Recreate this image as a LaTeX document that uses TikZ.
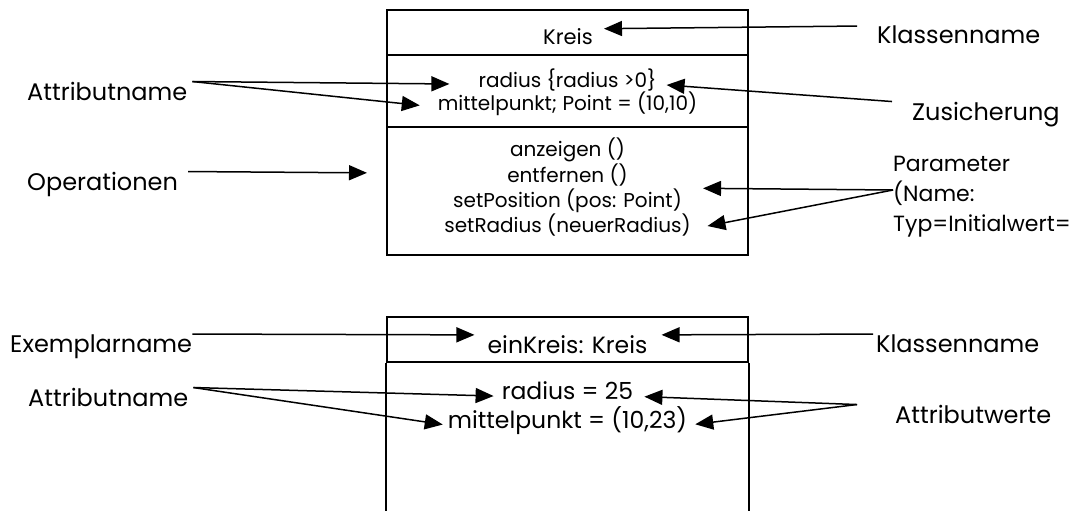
\documentclass[tikz,border=0pt]{standalone}
\usepackage{fontspec}
\setmainfont{Poppins}
\usetikzlibrary{arrows.meta}

\begin{document}
\begin{tikzpicture}[x=1pt, y=-1pt,
    every node/.style={inner sep=0pt},
    comp/.style={draw, line width=2pt, minimum width=361pt},
    lbl/.style={font=\fontsize{24}{30}\selectfont, anchor=base west},
    cls/.style={font=\fontsize{20}{24}\selectfont, anchor=base},
    obj/.style={font=\fontsize{23.5}{28}\selectfont, anchor=base},
    arr/.style={-{Triangle[length=18pt,width=15pt]}, line width=1.5pt}
]
    \useasboundingbox (0,0) rectangle (1081,511);

    % Klasse: name, attributes, operations
    \node[comp, minimum height=45pt]  (kname) at (567.5, 32.5) {};
    \node[comp, minimum height=72pt]  (kattr) at (567.5, 91) {};
    \node[comp, minimum height=128pt] (kops)  at (567.5, 191) {};

    \node[cls, font=\fontsize{21}{24}\selectfont] (kreis) at (568, 45) {Kreis};
    \node[cls] (radius)  at (567.5, 87)  {radius \{radius >0\}};
    \node[cls] (mittel)  at (567.5, 110) {mittelpunkt; Point = (10,10)};
    \node[cls] (anzeigen) at (567.5, 156) {anzeigen ()};
    \node[cls] (entfernen) at (567.5, 182) {entfernen ()};
    \node[cls] (setpos)  at (567.5, 207) {setPosition (pos: Point)};
    \node[cls] (setrad)  at (567.5, 232) {setRadius (neuerRadius)};

    % Exemplar (box runs off the bottom)
    \node[comp, minimum height=45pt] (iname) at (567.5, 339.5) {};
    \draw[line width=2pt] (iname.south west) -- ++(0,160)
                          (iname.south east) -- ++(0,160);

    \node[obj] (einkreis) at (567.5, 353) {einKreis: Kreis};
    \node[obj] (iradius)  at (567.5, 399) {radius = 25};
    \node[obj] (imittel)  at (567.5, 428) {mittelpunkt = (10,23)};

    % Beschriftungen
    \node[lbl] (attrA)  at (27, 100)  {Attributname};
    \node[lbl] (opsL)   at (27, 190)  {Operationen};
    \node[lbl] (klassA) at (877, 44)  {Klassenname};
    \node[lbl] (zusich) at (912, 120) {Zusicherung};
    \node[lbl, anchor=north west, align=left, font=\fontsize{22}{30}\selectfont]
        (param) at (893, 156) {Parameter\\(Name:\\Typ=Initialwert=};

    \node[lbl] (exempl) at (10, 352)  {Exemplarname};
    \node[lbl] (attrB)  at (28, 406)  {Attributname};
    \node[lbl] (klassB) at (876, 352) {Klassenname};
    \node[lbl] (werte)  at (895, 423) {Attributwerte};

    % Pfeile oben
    \draw[arr, shorten >=11pt] ([xshift=-20pt]klassA.north west) -- (kreis.north east);
    \draw[arr, shorten >=29pt] ([xshift=5pt]attrA.north east) -- (radius.mid west);
    \draw[arr, shorten >=18pt] ([xshift=5pt]attrA.north east) -- (mittel.mid west);
    \draw[arr, shorten >=10pt] ([xshift=-20pt]zusich.north west) -- (radius.mid east);
    \draw[arr, shorten >=19pt] ([xshift=10pt]opsL.north east) -- ([yshift=18pt]kops.west);
    \draw[arr, shorten >=21pt] ([yshift=-34pt]param.north west) -- (setpos.north east);
    \draw[arr, shorten >=17pt] ([yshift=-34pt]param.north west) -- (setrad.mid east);

    % Pfeile unten
    \draw[arr, shorten >=13pt] (exempl.north east) -- (einkreis.north west);
    \draw[arr, shorten >=14pt] ([xshift=-3pt]klassB.north west) -- (einkreis.north east);
    \draw[arr, shorten >=8pt]  ([xshift=5pt]attrB.north east) -- (iradius.mid west);
    \draw[arr, shorten >=5pt]  ([xshift=5pt]attrB.north east) -- (imittel.mid west);
    \draw[arr, shorten >=11pt] ([xshift=-38pt]werte.north west) -- (iradius.mid east);
    \draw[arr, shorten >=8pt]  ([xshift=-38pt]werte.north west) -- (imittel.mid east);
\end{tikzpicture}
\end{document}
